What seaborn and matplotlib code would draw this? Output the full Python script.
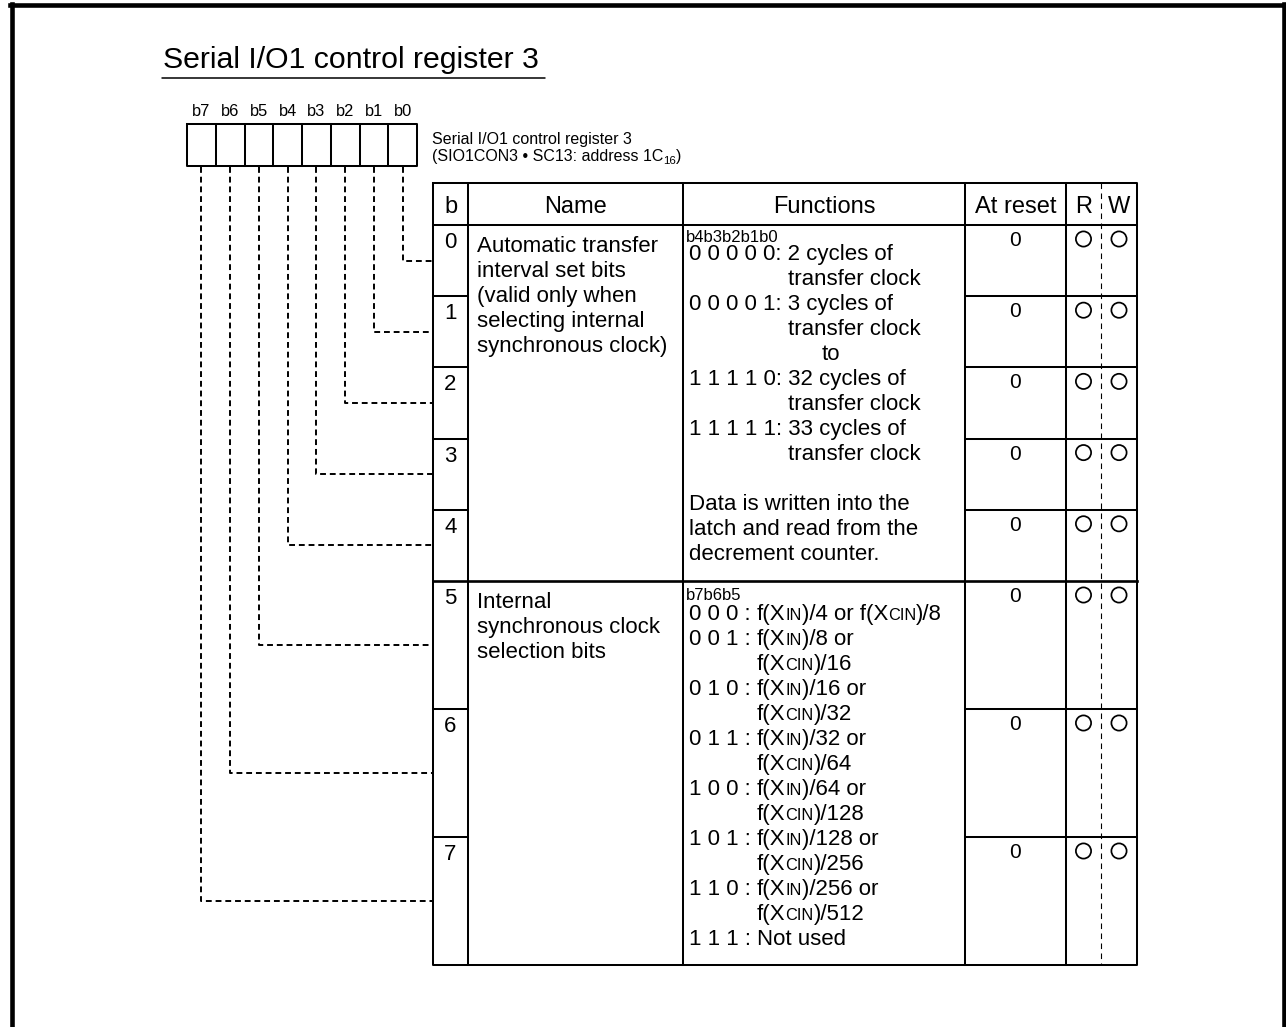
import re
import matplotlib
matplotlib.use('Agg')
import matplotlib.pyplot as plt
import seaborn as sns
import pandas as pd

# ---- content of the register diagram ----
title = 'Serial I/O1 control register 3'
reg_caption = 'Serial I/O1 control register 3'
reg_address = '(SIO1CON3 \u2022 SC13: address 1C{16})'   # {..} = subscript
bit_labels = ['b7', 'b6', 'b5', 'b4', 'b3', 'b2', 'b1', 'b0']
headers = ['b', 'Name', 'Functions', 'At reset', 'R', 'W']
row_bits = [0, 1, 2, 3, 4, 5, 6, 7]
reset_values = ['0', '0', '0', '0', '0', '0', '0', '0']
readable = [1, 1, 1, 1, 1, 1, 1, 1]
writable = [1, 1, 1, 1, 1, 1, 1, 1]

name_interval = ['Automatic transfer', 'interval set bits', '(valid only when',
                 'selecting internal', 'synchronous clock)']
name_clock = ['Internal', 'synchronous clock', 'selection bits']

func_interval_head = 'b4b3b2b1b0'
func_interval = [
    ('0 0 0 0 0: ', '2 cycles of'),
    ('', 'transfer clock'),
    ('0 0 0 0 1: ', '3 cycles of'),
    ('', 'transfer clock'),
    ('', 'to'),
    ('1 1 1 1 0: ', '32 cycles of'),
    ('', 'transfer clock'),
    ('1 1 1 1 1: ', '33 cycles of'),
    ('', 'transfer clock'),
]
func_interval_note = ['Data is written into the', 'latch and read from the',
                      'decrement counter.']

func_clock_head = 'b7b6b5'
func_clock = [   # {..} = small capitals
    ('0 0 0 : ', 'f(X{IN})/4 or f(X{CIN})/8'),
    ('0 0 1 : ', 'f(X{IN})/8 or'),
    ('', 'f(X{CIN})/16'),
    ('0 1 0 : ', 'f(X{IN})/16 or'),
    ('', 'f(X{CIN})/32'),
    ('0 1 1 : ', 'f(X{IN})/32 or'),
    ('', 'f(X{CIN})/64'),
    ('1 0 0 : ', 'f(X{IN})/64 or'),
    ('', 'f(X{CIN})/128'),
    ('1 0 1 : ', 'f(X{IN})/128 or'),
    ('', 'f(X{CIN})/256'),
    ('1 1 0 : ', 'f(X{IN})/256 or'),
    ('', 'f(X{CIN})/512'),
    ('1 1 1 : ', 'Not used'),
]

sns.set_style('white')
plt.rcParams['font.family'] = ['Liberation Sans', 'DejaVu Sans']
plt.rcParams['text.color'] = 'black'

fig = plt.figure(figsize=(12.86, 10.27), dpi=100)
ax = fig.add_axes([0, 0, 1, 1])
renderer = fig.canvas.get_renderer()

FS = 16
LW = 1.45


def line(xs, ys, lw=LW, **kw):
    ax.plot(xs, ys, color='black', lw=lw, solid_capstyle='projecting', **kw)


def adv(s, size=FS):
    # advance width of a string in pixels (trailing spaces included)
    t1 = ax.text(0, 0, s + '|', fontsize=size)
    t2 = ax.text(0, 0, '|', fontsize=size)
    w = t1.get_window_extent(renderer).width - t2.get_window_extent(renderer).width
    t1.remove()
    t2.remove()
    return w


def runs(x, y, s, size=FS, small=0.74, drop=0):
    for p in re.split(r'(\{[^}]*\})', s):
        if not p:
            continue
        if p.startswith('{'):
            txt, fs, dy = p[1:-1], size * small, drop
        else:
            txt, fs, dy = p, size, 0
        ax.text(x, y + dy, txt, fontsize=fs, va='baseline', ha='left')
        x += adv(txt, fs)
    return x


# ---- R / W marks (seaborn), table geometry first ----
box_x0, box_x1, box_y0, box_y1 = 187, 417, 124, 166
cell_w = (box_x1 - box_x0) / len(bit_labels)
tx = [433, 468, 683, 965, 1066, 1137]
rw_split = 1101
ty_head, ty_body = 183, 225
row_h = [71.2] * 5 + [128] * 3
row_top = [ty_body + sum(row_h[:i]) for i in range(len(row_h))]
ty_end = row_top[-1] + row_h[-1]
row_mid = [row_top[i] + row_h[i] / 2 for i in range(len(row_h))]
head_x = [(tx[0] + tx[1]) / 2, (tx[1] + tx[2]) / 2, (tx[2] + tx[3]) / 2,
          (tx[3] + tx[4]) / 2, (tx[4] + rw_split) / 2, (rw_split + tx[5]) / 2]

marks = pd.DataFrame({
    'x': [head_x[4] for r in readable if r] + [head_x[5] for w in writable if w],
    'y': [row_top[b] + 14 for b, r in zip(row_bits, readable) if r]
         + [row_top[b] + 14 for b, w in zip(row_bits, writable) if w],
})
sns.scatterplot(data=marks, x='x', y='y', s=120, marker='o', facecolor='none',
                edgecolor='black', linewidth=1.25, ax=ax, legend=False, zorder=3)
ax.set_xlim(0, 1286)
ax.set_ylim(1027, 0)
ax.axis('off')

# ---- outer frame ----
line([10, 1286], [4.5, 4.5], lw=3.3)
line([12, 12], [4, 1027], lw=3.3)
line([1284, 1284], [4, 1027], lw=3.3)

# ---- title ----
ax.text(163, 68, title, fontsize=21.8, va='baseline', ha='left')
ax.plot([162, 545], [78, 78], color='black', lw=1.1)

# ---- register bit boxes ----
line([box_x0, box_x1, box_x1, box_x0, box_x0], [box_y0, box_y0, box_y1, box_y1, box_y0])
for i, lab in enumerate(bit_labels):
    if i > 0:
        line([box_x0 + i * cell_w] * 2, [box_y0, box_y1])
    ax.text(box_x0 + (i + 0.5) * cell_w, 116, lab, fontsize=11.8, ha='center', va='baseline')

ax.text(432, 144, reg_caption, fontsize=11.5, va='baseline')
runs(432, 161, reg_address, size=11.5, small=0.72, drop=3)

# ---- table lines ----
line([tx[0], tx[-1], tx[-1], tx[0], tx[0]], [ty_head, ty_head, ty_end, ty_end, ty_head])
for x in tx[1:-1]:
    line([x, x], [ty_head, ty_end])
line([tx[0], tx[-1]], [ty_body, ty_body])
line([tx[0], tx[-1]], [row_top[5], row_top[5]], lw=1.9)
for b in row_bits:
    if b in (0, 5):
        continue
    line([tx[0], tx[1]], [row_top[b]] * 2)
    line([tx[3], tx[5]], [row_top[b]] * 2)
ax.plot([rw_split, rw_split], [ty_head, ty_end], color='black', lw=0.8, ls=(0, (5, 4)))

# headers
for hx, h in zip(head_x, headers):
    ax.text(hx, 213, h, fontsize=17, ha='center', va='baseline')

# bit numbers and reset values
for b, rv in zip(row_bits, reset_values):
    ax.text(head_x[0], row_top[b] + 23, str(b), fontsize=FS, ha='center', va='baseline')
    ax.text(head_x[3], row_top[b] + 21, rv, fontsize=FS - 1, ha='center', va='baseline')

# names
LS = 25
for k, s in enumerate(name_interval):
    ax.text(477, row_top[0] + 27 + k * LS, s, fontsize=FS, va='baseline')
for k, s in enumerate(name_clock):
    ax.text(477, row_top[5] + 27 + k * LS, s, fontsize=FS, va='baseline')

# functions, bits 0-4
fx = 689
ax.text(686, row_top[0] + 17, func_interval_head, fontsize=12, va='baseline')
indent = fx + adv(func_interval[0][0])
y = row_top[0] + 35
for pre, txt in func_interval:
    if pre:
        ax.text(fx, y, pre + txt, fontsize=FS, va='baseline')
    elif txt == 'to':
        ax.text(indent + 34, y, txt, fontsize=FS, va='baseline')
    else:
        ax.text(indent, y, txt, fontsize=FS, va='baseline')
    y += LS
y += LS
for s in func_interval_note:
    ax.text(fx, y, s, fontsize=FS, va='baseline')
    y += LS

# functions, bits 5-7
ax.text(686, row_top[5] + 19, func_clock_head, fontsize=12, va='baseline')
indent = fx + adv(func_clock[0][0])
y = row_top[5] + 39
for pre, txt in func_clock:
    if pre:
        ax.text(fx, y, pre, fontsize=FS, va='baseline')
    runs(indent, y, txt)
    y += LS

# dashed leaders from bit boxes to table rows
for b in row_bits:
    cx = box_x0 + (len(bit_labels) - 1 - b + 0.5) * cell_w
    ax.plot([cx, cx, tx[0]], [box_y1 + 1, row_mid[b], row_mid[b]], color='black',
            lw=1.4, ls=(0, (3, 2)))

fig.savefig('out.png', dpi=100, facecolor='white')
